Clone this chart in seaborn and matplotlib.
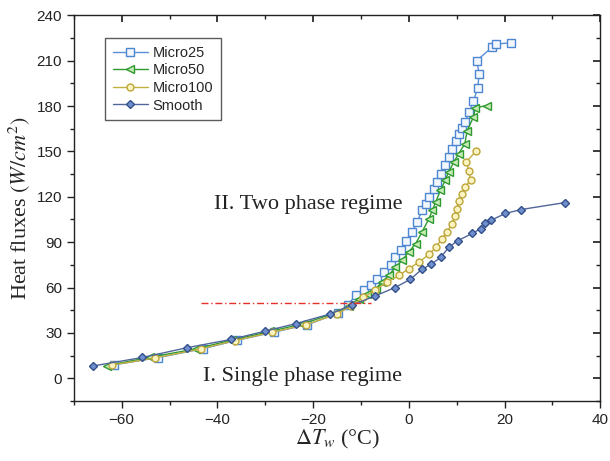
import matplotlib
matplotlib.use("Agg")
import matplotlib.pyplot as plt
from matplotlib.ticker import MultipleLocator
import seaborn as sns
import pandas as pd

# Wall superheat (deg C) and heat flux (W/cm^2) for each surface
x_micro25 = [-61.5, -52.4, -43.0, -36.0, -28.1, -21.2, -14.8, -12.8, -11.1, -9.4, -8.0, -6.6,
             -5.2, -3.8, -2.8, -1.7, -0.6, 0.7, 1.7, 2.8, 3.5, 4.3, 5.2, 5.9, 6.8, 7.5, 8.3,
             9.0, 9.9, 10.4, 11.1, 11.8, 12.6, 13.5, 14.4, 14.7, 14.2, 17.4, 18.3, 21.3]
y_micro25 = [9.0, 13.7, 19.6, 25.1, 30.6, 35.5, 43.0, 48.5, 54.8, 58.1, 61.4, 65.9,
             70.2, 74.6, 80.1, 85.0, 91.1, 96.6, 103.2, 111.0, 115.4, 119.7, 125.3, 129.7,
             135.2, 140.7, 146.2, 151.7, 157.2, 161.6, 165.5, 169.5, 176.0, 183.0, 192.0,
             201.3, 210.0, 218.9, 221.0, 221.7]

x_micro50 = [-63.0, -54.0, -44.5, -37.0, -29.0, -22.3, -15.5, -12.5, -10.4, -8.7, -6.9, -5.6,
             -4.2, -2.8, -1.4, 0.0, 1.4, 2.8, 4.2, 4.9, 5.6, 6.6, 7.6, 8.3, 9.4, 10.4, 11.7,
             12.2, 13.5, 13.9, 16.3]
y_micro50 = [8.5, 14.0, 19.5, 25.3, 31.0, 36.0, 43.0, 48.0, 52.6, 55.9, 59.2, 63.6,
             68.0, 73.5, 77.9, 83.6, 88.9, 97.0, 105.4, 111.0, 116.4, 124.2, 130.8, 136.3,
             142.9, 148.4, 155.0, 163.8, 172.6, 178.8, 180.3]

x_micro100 = [-62.0, -53.0, -43.5, -36.3, -28.5, -21.5, -15.0, -12.0, -9.5, -7.0, -4.5, -2.1,
              0.0, 2.1, 4.2, 5.7, 6.9, 8.0, 9.0, 9.6, 10.1, 10.4, 11.1, 11.7, 12.9, 12.6,
              12.0, 14.0]
y_micro100 = [8.8, 13.5, 19.5, 25.0, 30.5, 35.5, 42.5, 48.0, 53.5, 58.5, 63.6, 68.0,
              72.5, 76.8, 81.9, 86.7, 92.3, 96.6, 102.2, 107.0, 112.1, 117.1, 122.0, 126.4,
              130.8, 137.0, 143.0, 150.0]

x_smooth = [-66.0, -55.7, -46.3, -37.2, -30.0, -23.6, -16.5, -11.8, -7.0, -2.9, 0.3, 2.7,
            4.6, 6.7, 8.3, 10.2, 13.3, 15.0, 16.0, 17.1, 20.2, 23.5, 32.7]
y_smooth = [8.2, 13.8, 20.3, 25.7, 31.2, 36.2, 42.5, 48.5, 54.5, 60.0, 65.4, 72.0,
            75.3, 80.0, 86.5, 91.0, 95.8, 99.0, 102.4, 104.4, 109.0, 111.6, 116.2]

series_names = ["Micro25", "Micro50", "Micro100", "Smooth"]

# Onset-of-boiling reference level
onb_x = [-43.4, -8.0]
onb_y = [50.0, 50.0]

x_ticks = [-60, -40, -20, 0, 20, 40]
y_ticks = [0, 30, 60, 90, 120, 150, 180, 210, 240]

sns.set_theme(style="white")
plt.rcParams["font.family"] = ["Liberation Sans", "DejaVu Sans"]
plt.rcParams["mathtext.fontset"] = "stix"

frames = []
for name, xs, ys in zip(series_names,
                        [x_micro25, x_micro50, x_micro100, x_smooth],
                        [y_micro25, y_micro50, y_micro100, y_smooth]):
    frames.append(pd.DataFrame({"dT": xs, "q": ys, "surface": name}))
df = pd.concat(frames, ignore_index=True)

styles = {
    "Micro25": dict(color="#5b8fd6", marker="s", mfc="#f2f7fd", mec="#4f86d2", ms=5.2),
    "Micro50": dict(color="#2f9a2f", marker="<", mfc="#c8ecb8", mec="#2f9a2f", ms=6.0),
    "Micro100": dict(color="#c2b040", marker="o", mfc="#fbf3c0", mec="#bca53a", ms=5.0),
    "Smooth": dict(color="#51669a", marker="D", mfc="#6f8fcf", mec="#34508a", ms=4.2),
}

fig = plt.figure(figsize=(6.10, 4.61), dpi=100)
ax = fig.add_axes([0.121, 0.130, 0.863, 0.837])

for name in series_names:
    st = styles[name]
    sub = df[df["surface"] == name]
    sns.lineplot(data=sub, x="dT", y="q", sort=False, estimator=None, ax=ax,
                 color=st["color"], linewidth=1.0, marker=st["marker"],
                 markersize=st["ms"], markerfacecolor=st["mfc"],
                 markeredgecolor=st["mec"], markeredgewidth=1.0, label=name)

ax.plot(onb_x, onb_y, color="#e8302a", linestyle=(0, (5, 2, 1, 2)), linewidth=1.0)

ax.text(-40.8, 112, "II. Two phase regime", family="Liberation Serif", fontsize=16,
        color="#222222")
ax.text(-43.0, -2, "I. Single phase regime", family="Liberation Serif", fontsize=16,
        color="#222222")

ax.set_xlim(-70, 40)
ax.set_ylim(-15, 240)
ax.set_xticks(x_ticks)
ax.set_yticks(y_ticks)
ax.xaxis.set_minor_locator(MultipleLocator(10))
ax.yaxis.set_minor_locator(MultipleLocator(15))
ax.tick_params(which="both", direction="out", colors="#222222", labelsize=11,
               bottom=True, left=True, top=False, right=False)
ax.tick_params(which="major", length=5, width=1)
ax.tick_params(which="minor", length=3, width=1)

# inward ticks on the right and top edges
ax_r = ax.secondary_yaxis("right")
ax_r.set_yticks(y_ticks)
ax_r.yaxis.set_minor_locator(MultipleLocator(15))
ax_r.tick_params(which="both", direction="in", labelright=False, colors="#222222")
ax_r.tick_params(which="major", length=5)
ax_r.tick_params(which="minor", length=3)
ax_t = ax.secondary_xaxis("top")
ax_t.set_xticks(x_ticks)
ax_t.xaxis.set_minor_locator(MultipleLocator(10))
ax_t.tick_params(which="both", direction="in", labeltop=False, colors="#222222")
ax_t.tick_params(which="major", length=5)
ax_t.tick_params(which="minor", length=3)
for sp in ax_r.spines.values():
    sp.set_visible(False)
for sp in ax_t.spines.values():
    sp.set_visible(False)

for sp in ax.spines.values():
    sp.set_color("#222222")
    sp.set_linewidth(1.0)

ax.set_xlabel(r"$\Delta T_w$ (°C)", family="Liberation Serif", fontsize=16, labelpad=1)
ax.set_ylabel(r"Heat fluxes $(W/cm^2)$", family="Liberation Serif", fontsize=16, labelpad=3)

leg = ax.legend(loc="upper left", bbox_to_anchor=(0.06, 0.94), fontsize=10.5,
                frameon=True, fancybox=False, edgecolor="#333333", handlelength=2.4,
                borderpad=0.5, labelspacing=0.25, handletextpad=0.35, borderaxespad=0)
leg.get_frame().set_linewidth(1.0)

fig.savefig("out.png", dpi=100)
